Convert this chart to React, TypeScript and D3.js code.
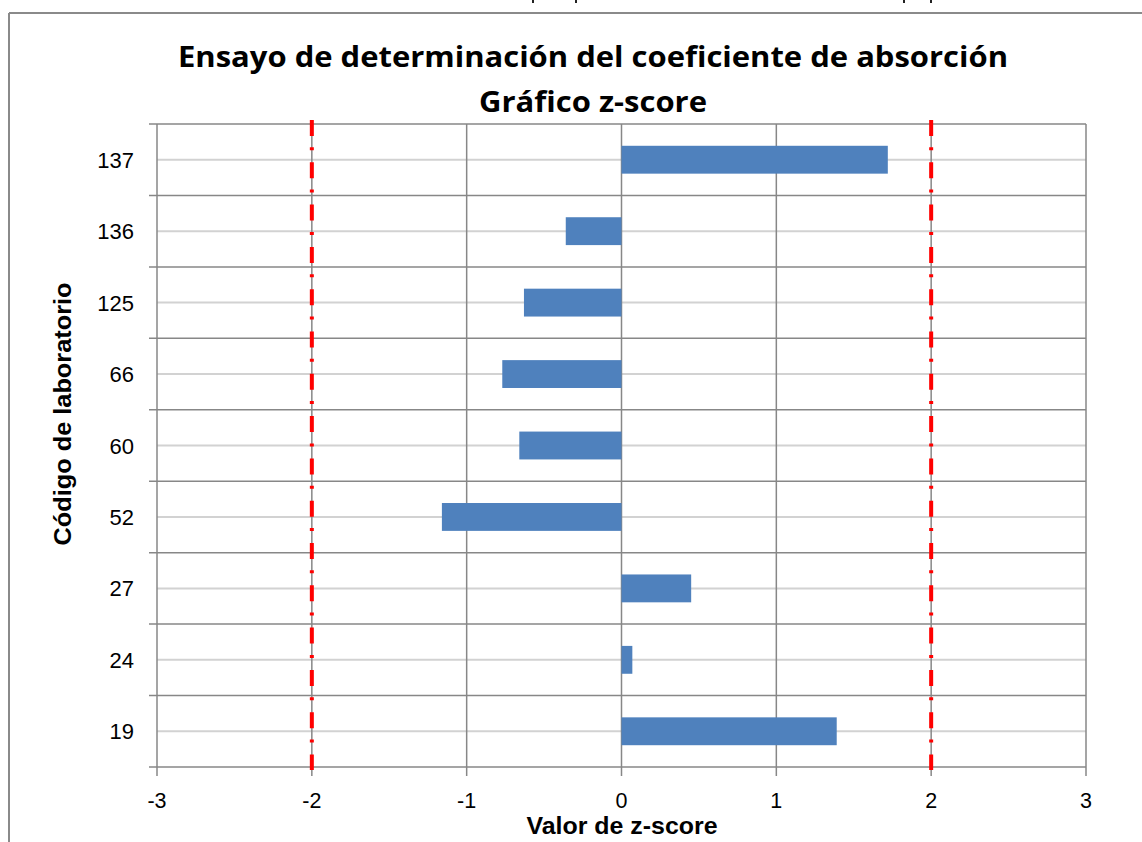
import React from "react";
import * as d3 from "d3";

const labs = ["137", "136", "125", "66", "60", "52", "27", "24", "19"];
const zScores = [1.72, -0.36, -0.63, -0.77, -0.66, -1.16, 0.45, 0.07, 1.39];
const xTicks = [-3, -2, -1, 0, 1, 2, 3];
const limits = [-2, 2];
const titleLines = ["Ensayo de determinación del coeficiente de absorción", "Gráfico z-score"];
const xTitle = "Valor de z-score";
const yTitle = "Código de laboratorio";

const W = 1142;
const H = 842;
const M = { left: 157, right: 1086, top: 124, bottom: 767 };
const FONT = "'Open Sans', 'DejaVu Sans', sans-serif";
const AXFONT = "'Liberation Sans', Arial, sans-serif";
const GRID = "#878787";
const LIGHT = "#d2d2d2";

export default function App() {
  const x = d3.scaleLinear().domain([-3, 3]).range([M.left, M.right]);
  const y = d3.scaleBand<string>().domain(labs).range([M.top, M.bottom]).padding(0);
  const bw = y.bandwidth();
  const barH = bw * 0.39;
  const bounds = labs.map((l) => y(l) as number).concat([M.bottom]);

  return (
    <svg
      width={W}
      height={H}
      style={{ position: "absolute", left: 0, top: 0, background: "#fff" }}
      fontFamily={FONT}
    >
      <rect x={0} y={0} width={W} height={H} fill="#fff" />
      {/* clipped text fragments above the frame */}
      {[532, 575, 903, 930].map((px, i) => (
        <rect key={i} x={px} y={0} width={2} height={3} fill="#222" />
      ))}
      {/* chart frame */}
      <line x1={9} x2={W} y1={13} y2={13} stroke="#8a8a8a" strokeWidth={2} />
      <line x1={9} x2={9} y1={13} y2={H} stroke="#8a8a8a" strokeWidth={2} />

      {/* title */}
      <text x={593} y={67} textAnchor="middle" fontSize={28} fontWeight="bold" fill="#000"
        textLength={830} lengthAdjust="spacingAndGlyphs">
        {titleLines[0]}
      </text>
      <text x={593} y={112} textAnchor="middle" fontSize={28} fontWeight="bold" fill="#000"
        textLength={228} lengthAdjust="spacingAndGlyphs">
        {titleLines[1]}
      </text>

      {/* light horizontal lines at category centres */}
      {labs.map((l) => {
        const cy = (y(l) as number) + bw / 2;
        return <line key={"c" + l} x1={M.left} x2={M.right} y1={cy} y2={cy} stroke={LIGHT} strokeWidth={2} />;
      })}
      {/* horizontal boundary gridlines with ticks */}
      {bounds.map((b, i) => (
        <line key={"b" + i} x1={M.left - 8} x2={M.right} y1={b} y2={b} stroke={GRID} strokeWidth={1.5} />
      ))}
      {/* vertical gridlines */}
      {xTicks.map((t) => (
        <line key={"v" + t} x1={x(t)} x2={x(t)} y1={M.top} y2={M.bottom + 9} stroke={GRID} strokeWidth={1.5} />
      ))}

      {/* bars */}
      {labs.map((l, i) => {
        const v = zScores[i];
        const cy = (y(l) as number) + bw / 2;
        return (
          <rect
            key={"bar" + l}
            x={Math.min(x(0), x(v))}
            y={cy - barH / 2}
            width={Math.abs(x(v) - x(0))}
            height={barH}
            fill="#4f81bd"
          />
        );
      })}

      {/* limit lines */}
      {limits.map((lv) => (
        <line
          key={"lim" + lv}
          x1={x(lv)}
          x2={x(lv)}
          y1={120}
          y2={770}
          stroke="#ff0000"
          strokeWidth={4}
          strokeDasharray="16 11.3 3 12"
        />
      ))}

      {/* y tick labels */}
      {labs.map((l) => (
        <text key={"yl" + l} x={134} y={(y(l) as number) + bw / 2 + 8} textAnchor="end" fontSize={22}
          fontFamily={AXFONT} fill="#000">
          {l}
        </text>
      ))}
      {/* x tick labels */}
      {xTicks.map((t) => (
        <text key={"xl" + t} x={x(t)} y={807.5} textAnchor="middle" fontSize={21.5} fontFamily={AXFONT} fill="#000">
          {t}
        </text>
      ))}

      {/* axis titles */}
      <text x={622} y={833.5} textAnchor="middle" fontSize={23} fontWeight="bold" fontFamily={AXFONT} fill="#000"
        textLength={191} lengthAdjust="spacingAndGlyphs">
        {xTitle}
      </text>
      <text
        transform={`translate(71,414) rotate(-90)`}
        textAnchor="middle"
        fontSize={24}
        fontWeight="bold"
        fontFamily={AXFONT}
        fill="#000"
        textLength={263}
        lengthAdjust="spacingAndGlyphs"
      >
        {yTitle}
      </text>
    </svg>
  );
}
